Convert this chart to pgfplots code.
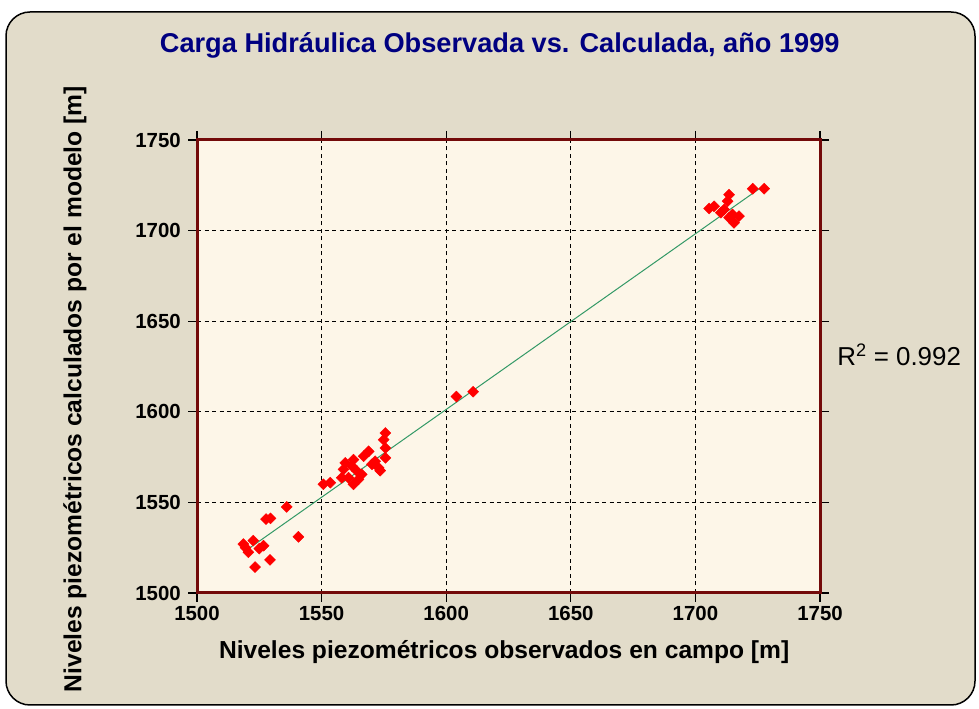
\documentclass[border=0pt]{standalone}
\usepackage{fontspec}
\setmainfont{Liberation Sans}
\usepackage{pgfplots}
\pgfplotsset{compat=1.18}
\definecolor{bgc}{RGB}{226,220,202}
\definecolor{plotc}{RGB}{253,246,232}
\definecolor{framec}{RGB}{115,10,10}
\definecolor{navyc}{RGB}{0,0,128}
\definecolor{trendc}{RGB}{51,153,102}
\begin{document}
\begin{tikzpicture}[x=1bp,y=1bp]
\fill[white] (0,0) rectangle (979,709);
\draw[fill=bgc, line width=1.5bp, rounded corners=24bp] (6,4) rectangle (975,697);
\begin{axis}[
  at={(197bp,116bp)}, anchor=south west,
  scale only axis, width=623bp, height=453bp,
  xmin=1500, xmax=1750, ymin=1500, ymax=1750,
  xtick={1500,1550,...,1750}, ytick={1500,1550,...,1750},
  grid=major,
  major grid style={black, dash pattern=on 4bp off 3.5bp, line width=1.3bp},
  axis background/.style={fill=plotc},
  axis line style={framec, line width=3bp},
  tick style={black, line width=1.2bp}, major tick length=9bp, tick align=outside,
  /pgf/number format/assume math mode=true,
  /pgf/number format/set thousands separator={},
  ticklabel style={font=\bfseries\fontsize{20.5}{20.5}\selectfont, inner sep=0pt},
  xticklabel style={anchor=north, yshift=-4bp},
  yticklabel style={anchor=east, xshift=-7bp},
  title={Carga Hidráulica Observada vs. Calculada, año 1999},
  title style={at={(axis description cs:0.486,1.196)}, anchor=center, yshift=0pt, text=navyc, font=\bfseries\fontsize{27.3}{27.3}\selectfont},
  xlabel={Niveles piezométricos observados en campo [m]},
  xlabel style={at={(axis description cs:0.493,-0.13)}, anchor=center, font=\bfseries\fontsize{24.7}{24.7}\selectfont},
  ylabel={Niveles piezométricos calculados por el modelo [m]},
  ylabel style={at={(axis description cs:-0.196,0.450)}, anchor=center, font=\bfseries\fontsize{24.7}{24.7}\selectfont},
  clip=false,
]
\addplot[trendc, line width=1bp] coordinates {(1518.6,1522.4) (1727.6,1725.0)};
\addplot[only marks, mark=square*, mark size=3.9bp, mark options={rotate=45, fill=red, draw=red}] coordinates {
(1518.6,1527.0) (1520.6,1522.5) (1522.6,1528.9) (1523.3,1514.3) (1526.7,1526.1)
(1525.0,1524.5) (1527.7,1540.8) (1529.5,1541.2) (1529.3,1518.3) (1536.0,1547.5)
(1540.7,1531.0) (1519.5,1525.0)
(1550.7,1560.0) (1553.5,1560.9) (1558.1,1563.6) (1558.8,1568.2) (1559.5,1571.8)
(1560.8,1563.6) (1562.2,1570.0) (1562.8,1573.6) (1562.8,1560.0) (1564.2,1567.3)
(1564.8,1562.7) (1566.1,1565.5) (1566.9,1575.5) (1568.9,1578.2) (1570.2,1571.0)
(1571.5,1572.7) (1572.9,1569.1) (1575.6,1574.6) (1575.6,1580.0) (1574.9,1584.6)
(1575.6,1588.3) (1573.5,1567.5)
(1604.1,1608.4) (1610.8,1611.1)
(1705.5,1712.2) (1707.5,1713.4) (1710.2,1709.9) (1711.5,1711.6) (1712.9,1716.2)
(1713.5,1719.8) (1713.5,1707.1) (1714.9,1708.9) (1715.5,1704.3) (1717.5,1708.0)
(1723.0,1723.1) (1727.6,1723.1)
};
\node[anchor=center, font=\fontsize{26}{26}\selectfont] at (axis description cs:1.127,0.525) {R$^{\mathrm{2}}$ = 0.992};
\end{axis}
\end{tikzpicture}
\end{document}
